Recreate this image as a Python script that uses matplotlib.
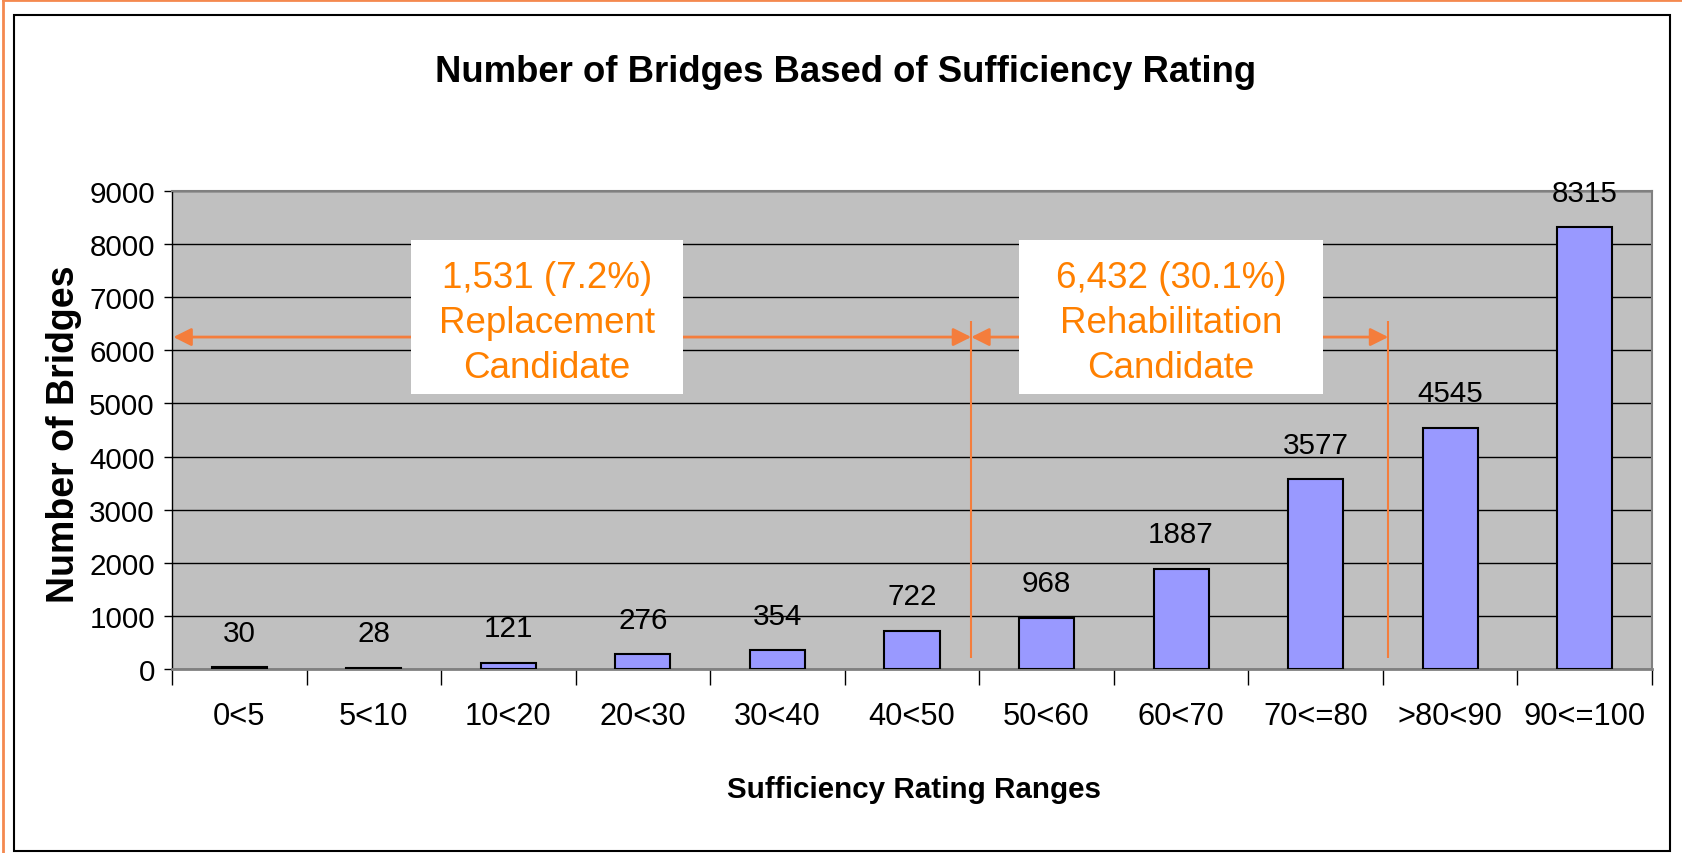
import matplotlib
matplotlib.use("Agg")
import matplotlib.pyplot as plt
from matplotlib import font_manager
from matplotlib.patches import Rectangle
from matplotlib.lines import Line2D
import numpy as np

# Data
ranges = ["0<5", "5<10", "10<20", "20<30", "30<40", "40<50",
          "50<60", "60<70", "70<=80", ">80<90", "90<=100"]
bridges = [30, 28, 121, 276, 354, 722, 968, 1887, 3577, 4545, 8315]

replacement_text = "1,531 (7.2%)\nReplacement\nCandidate"
rehab_text = "6,432 (30.1%)\nRehabilitation\nCandidate"

# annotation geometry (data coords)
split_x = [5.44, 8.54]
arrow_y = 6250
vline_span = (200, 6550)

# condensed font if available
installed = {f.name for f in font_manager.fontManager.ttflist}
if "Liberation Sans Narrow" in installed:
    narrow = "Liberation Sans Narrow"
    k = 1.0
else:
    narrow = "Liberation Sans"
    k = 0.82
regular = "Liberation Sans"

W, H = 1682, 854
fig = plt.figure(figsize=(W / 100, H / 100), dpi=100)
fig.patch.set_facecolor("white")

# plot area: x 172..1652 px, y 192..670 px
ax = fig.add_axes([172 / W, (H - 670) / H, 1480 / W, 478 / H])
ax.set_facecolor("#C0C0C0")

x = np.arange(len(ranges))
bars = ax.bar(x, bridges, width=0.41, color="#9999FF", edgecolor="black",
              linewidth=1.5, zorder=3)

for xi, v in zip(x, bridges):
    ax.annotate(str(v), (xi, v), xytext=(0, 19), textcoords="offset points",
                ha="center", va="baseline", fontsize=26 * k,
                family=narrow, zorder=5)

ax.set_xlim(-0.5, len(ranges) - 0.5)
ax.set_ylim(0, 9000)
ax.set_yticks(np.arange(0, 9001, 1000))
ax.yaxis.grid(True, color="black", linewidth=1)
ax.set_axisbelow(True)

ax.set_xticks(x)
ax.set_xticklabels(ranges, family=narrow, fontsize=27 * k)
ax.set_xticks(np.arange(-0.5, len(ranges)), minor=True)
ax.tick_params(axis="x", which="major", length=0, pad=23)
ax.tick_params(axis="x", which="minor", length=11.5, width=1, color="black",
               direction="out")
ax.tick_params(axis="y", length=5.8, width=1, pad=6.5, direction="out")
for lab in ax.get_yticklabels():
    lab.set_family(narrow)
    lab.set_fontsize(26 * k)

for side in ["top", "right"]:
    ax.spines[side].set_color("#808080")
    ax.spines[side].set_linewidth(1.5)
ax.spines["bottom"].set_color("#808080")
ax.spines["bottom"].set_linewidth(2)
ax.spines["left"].set_color("black")
ax.spines["left"].set_linewidth(1)

# orange annotations
arrow_col = "#F47D3C"
text_col = "#FF8000"
ax.vlines(split_x, vline_span[0], vline_span[1], color=arrow_col,
          linewidth=1.5, zorder=4)
arrow_props = dict(arrowstyle="<|-|>", color=arrow_col, lw=2,
                   mutation_scale=27, shrinkA=0, shrinkB=0)
ax.annotate("", xy=(split_x[0], arrow_y), xytext=(-0.49, arrow_y),
            arrowprops=arrow_props, zorder=4)
ax.annotate("", xy=(split_x[1], arrow_y), xytext=(split_x[0], arrow_y),
            arrowprops=arrow_props, zorder=4)

for bx, bw, cx, txt in [(0.1615, 0.1838, 0.2534, replacement_text),
                        (0.5723, 0.2054, 0.6750, rehab_text)]:
    ax.add_patch(Rectangle((bx, 0.5753), bw, 0.3222, transform=ax.transAxes,
                           facecolor="white", edgecolor="none", zorder=6))
    ax.text(cx, 0.725, txt, transform=ax.transAxes, ha="center",
            va="center", multialignment="center", color=text_col,
            fontsize=26.5, family=regular, linespacing=1.37, zorder=7)

# titles
fig.text(846 / W, 1 - 73 / H, "Number of Bridges Based of Sufficiency Rating",
         ha="center", va="center", fontsize=32 * k, fontweight="bold",
         family=narrow)
fig.text(914 / W, 1 - 790 / H, "Sufficiency Rating Ranges", ha="center",
         va="center", fontsize=26 * k, fontweight="bold", family=narrow)
fig.text(64 / W, 1 - 434 / H, "Number of Bridges", ha="center", va="center",
         rotation=90, fontsize=27, fontweight="bold", family=regular)

# chart frame and outer orange border
fig.add_artist(Rectangle((14 / W, 2 / H), (1670 - 14) / W, (852 - 16) / H,
                         transform=fig.transFigure, facecolor="none",
                         edgecolor="black", linewidth=1.5))
fig.add_artist(Line2D([3 / W, 3 / W], [0, 1 - 1 / H], transform=fig.transFigure,
                      color="#F4894F", linewidth=2))
fig.add_artist(Line2D([3 / W, 1], [1 - 1 / H, 1 - 1 / H],
                      transform=fig.transFigure, color="#F4894F", linewidth=2))

fig.savefig("out.png", dpi=100)
